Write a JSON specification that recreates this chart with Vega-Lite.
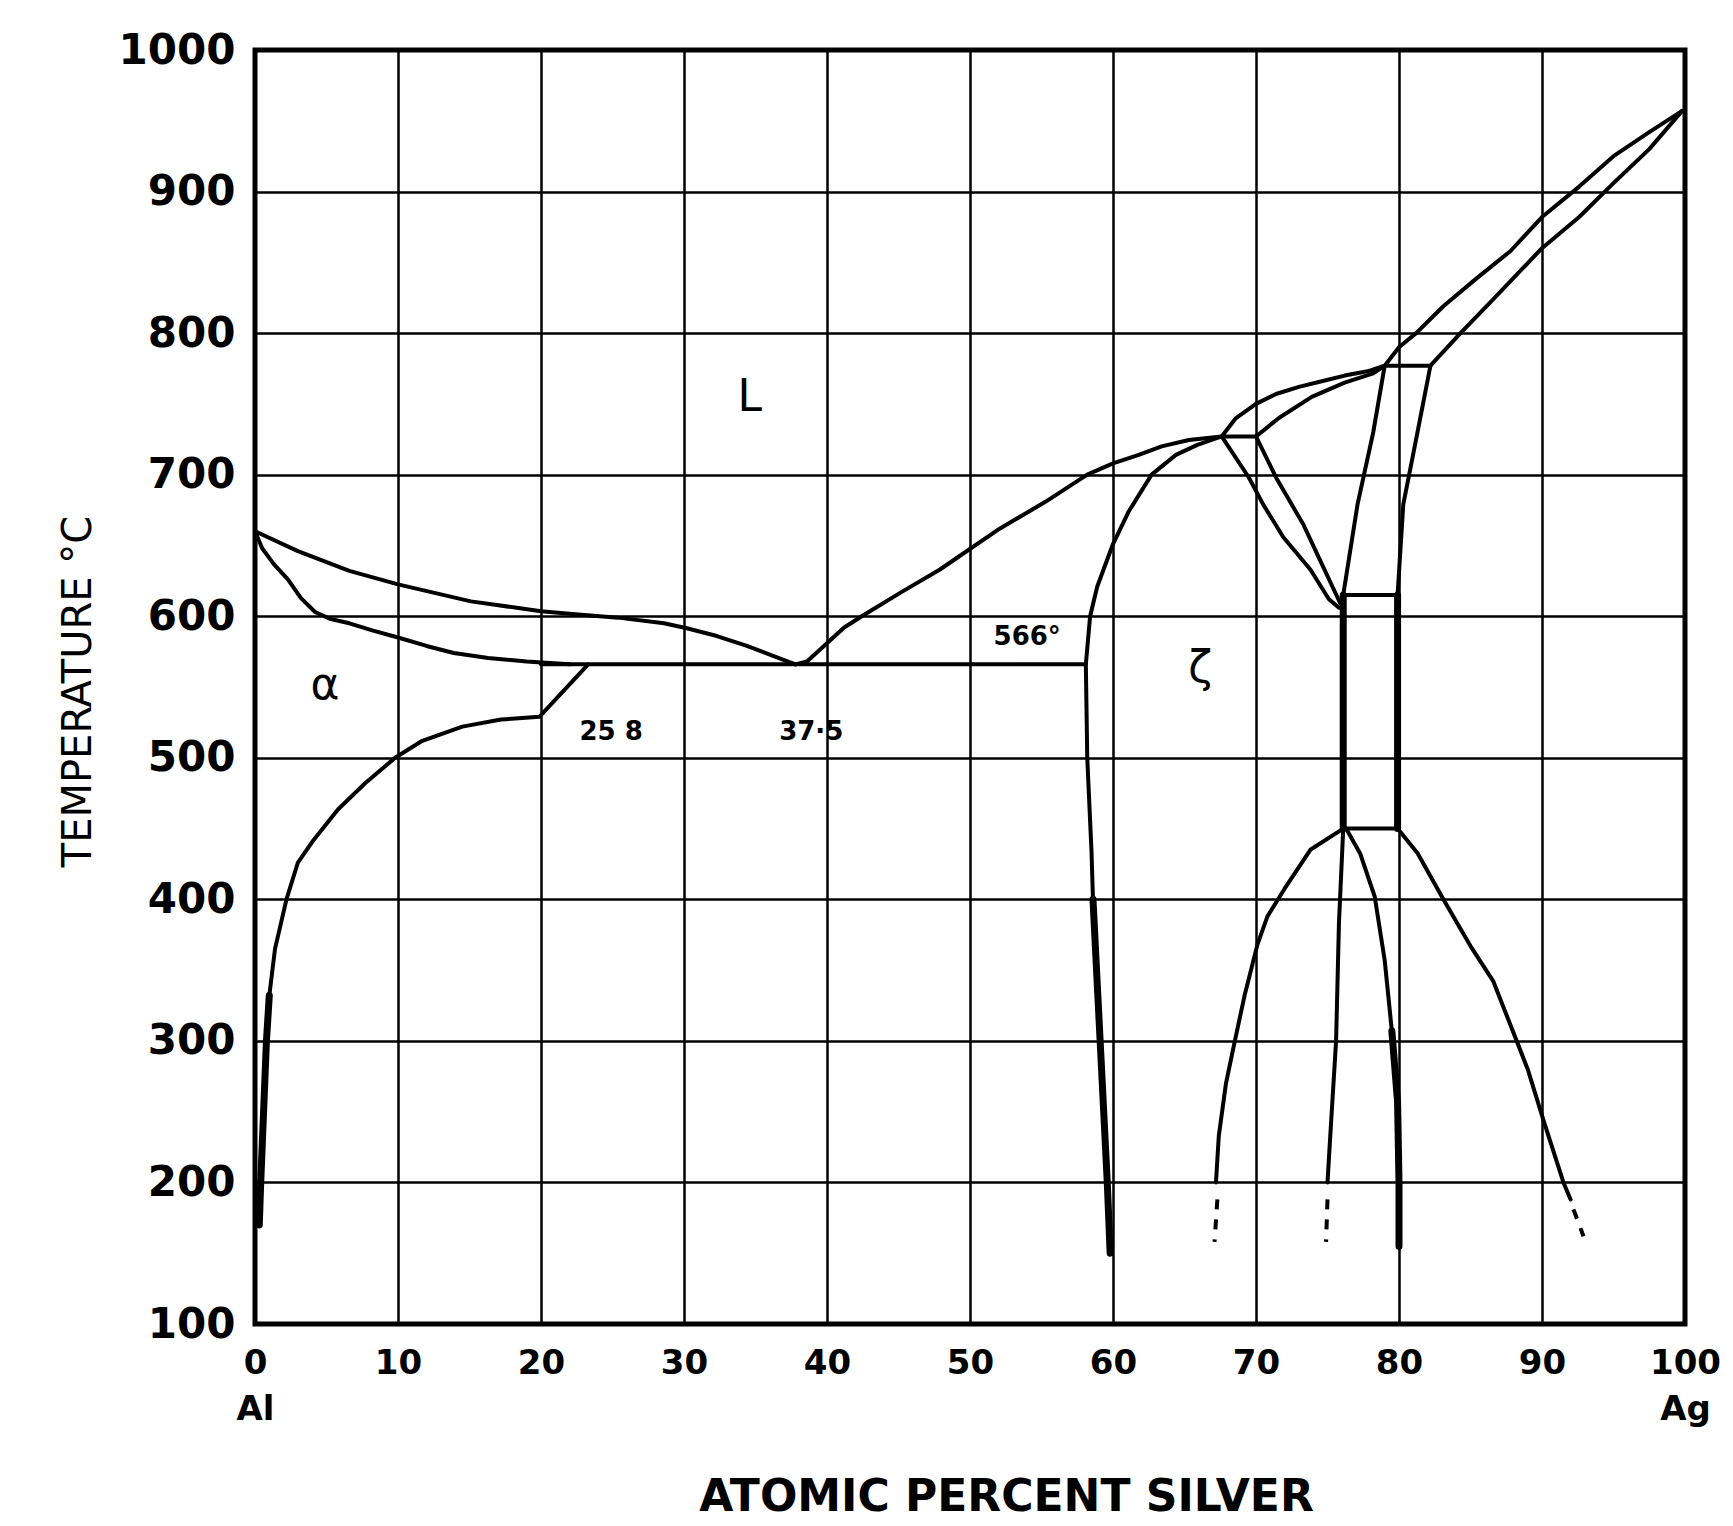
{
  "$schema": "https://vega.github.io/schema/vega-lite/v6.json",
  "autosize": {"type": "none"},
  "padding": {"left": 255, "top": 50, "right": 48, "bottom": 202},
  "width": 1430,
  "height": 1274,
  "background": "white",
  "config": {
    "font": "DejaVu Sans",
    "view": {"stroke": "black", "strokeWidth": 5},
    "axis": {
      "grid": true,
      "gridColor": "black",
      "gridOpacity": 1,
      "gridWidth": 2.5,
      "ticks": false,
      "domain": false,
      "labelColor": "black",
      "titleColor": "black",
      "labelFont": "DejaVu Sans",
      "titleFont": "DejaVu Sans"
    }
  },
  "datasets": {
    "lines": [
      {"curve": "liqAl", "i": 0, "x": 0, "T": 660},
      {"curve": "liqAl", "i": 1, "x": 3.0, "T": 646},
      {"curve": "liqAl", "i": 2, "x": 6.6, "T": 632},
      {"curve": "liqAl", "i": 3, "x": 10, "T": 622.5},
      {"curve": "liqAl", "i": 4, "x": 15.1, "T": 610.5},
      {"curve": "liqAl", "i": 5, "x": 20, "T": 603.5},
      {"curve": "liqAl", "i": 6, "x": 22.8, "T": 601},
      {"curve": "liqAl", "i": 7, "x": 25.4, "T": 599},
      {"curve": "liqAl", "i": 8, "x": 28.6, "T": 595},
      {"curve": "liqAl", "i": 9, "x": 30.2, "T": 591.5},
      {"curve": "liqAl", "i": 10, "x": 32.3, "T": 586},
      {"curve": "liqAl", "i": 11, "x": 34.4, "T": 579},
      {"curve": "liqAl", "i": 12, "x": 36.5, "T": 571},
      {"curve": "liqAl", "i": 13, "x": 37.8, "T": 566},

      {"curve": "liqMid", "i": 0, "x": 37.8, "T": 566},
      {"curve": "liqMid", "i": 1, "x": 38.6, "T": 568},
      {"curve": "liqMid", "i": 2, "x": 39.9, "T": 580},
      {"curve": "liqMid", "i": 3, "x": 41.2, "T": 592},
      {"curve": "liqMid", "i": 4, "x": 42.6, "T": 601},
      {"curve": "liqMid", "i": 5, "x": 45.2, "T": 617},
      {"curve": "liqMid", "i": 6, "x": 47.9, "T": 633},
      {"curve": "liqMid", "i": 7, "x": 49.2, "T": 642},
      {"curve": "liqMid", "i": 8, "x": 52.1, "T": 662},
      {"curve": "liqMid", "i": 9, "x": 55.3, "T": 681},
      {"curve": "liqMid", "i": 10, "x": 58.2, "T": 700},
      {"curve": "liqMid", "i": 11, "x": 60, "T": 708},
      {"curve": "liqMid", "i": 12, "x": 61.8, "T": 714},
      {"curve": "liqMid", "i": 13, "x": 63.4, "T": 720},
      {"curve": "liqMid", "i": 14, "x": 65.3, "T": 724.5},
      {"curve": "liqMid", "i": 15, "x": 67.6, "T": 727},

      {"curve": "liqHi", "i": 0, "x": 67.6, "T": 727},
      {"curve": "liqHi", "i": 1, "x": 68.6, "T": 740},
      {"curve": "liqHi", "i": 2, "x": 70, "T": 750},
      {"curve": "liqHi", "i": 3, "x": 71.4, "T": 757},
      {"curve": "liqHi", "i": 4, "x": 73, "T": 762},
      {"curve": "liqHi", "i": 5, "x": 74.6, "T": 766},
      {"curve": "liqHi", "i": 6, "x": 76.2, "T": 770},
      {"curve": "liqHi", "i": 7, "x": 77.8, "T": 773},
      {"curve": "liqHi", "i": 8, "x": 79.0, "T": 777},
      {"curve": "liqHi", "i": 9, "x": 80, "T": 790},
      {"curve": "liqHi", "i": 10, "x": 81.2, "T": 800},
      {"curve": "liqHi", "i": 11, "x": 83.1, "T": 819},
      {"curve": "liqHi", "i": 12, "x": 85.4, "T": 838.5},
      {"curve": "liqHi", "i": 13, "x": 87.8, "T": 858},
      {"curve": "liqHi", "i": 14, "x": 90, "T": 882},
      {"curve": "liqHi", "i": 15, "x": 92.6, "T": 903.5},
      {"curve": "liqHi", "i": 16, "x": 95, "T": 925},
      {"curve": "liqHi", "i": 17, "x": 97.5, "T": 942},
      {"curve": "liqHi", "i": 18, "x": 99.8, "T": 957},

      {"curve": "solBeta", "i": 0, "x": 70, "T": 727},
      {"curve": "solBeta", "i": 1, "x": 71.6, "T": 740},
      {"curve": "solBeta", "i": 2, "x": 73.9, "T": 755},
      {"curve": "solBeta", "i": 3, "x": 76.2, "T": 765},
      {"curve": "solBeta", "i": 4, "x": 78.2, "T": 771.5},
      {"curve": "solBeta", "i": 5, "x": 79.0, "T": 777},

      {"curve": "solAg", "i": 0, "x": 82.2, "T": 777},
      {"curve": "solAg", "i": 1, "x": 84.3, "T": 800},
      {"curve": "solAg", "i": 2, "x": 86.6, "T": 824},
      {"curve": "solAg", "i": 3, "x": 90, "T": 860},
      {"curve": "solAg", "i": 4, "x": 92.6, "T": 882},
      {"curve": "solAg", "i": 5, "x": 95, "T": 906},
      {"curve": "solAg", "i": 6, "x": 97.5, "T": 930},
      {"curve": "solAg", "i": 7, "x": 99.8, "T": 957},

      {"curve": "p780", "i": 0, "x": 79.0, "T": 777},
      {"curve": "p780", "i": 1, "x": 82.2, "T": 777},
      {"curve": "p727", "i": 0, "x": 67.6, "T": 727},
      {"curve": "p727", "i": 1, "x": 70, "T": 727},
      {"curve": "e566", "i": 0, "x": 20, "T": 566},
      {"curve": "e566", "i": 1, "x": 58.1, "T": 566},

      {"curve": "solAl", "i": 0, "x": 0, "T": 660},
      {"curve": "solAl", "i": 1, "x": 0.5, "T": 648},
      {"curve": "solAl", "i": 2, "x": 1.3, "T": 637},
      {"curve": "solAl", "i": 3, "x": 2.3, "T": 626},
      {"curve": "solAl", "i": 4, "x": 3.2, "T": 613},
      {"curve": "solAl", "i": 5, "x": 4.2, "T": 603},
      {"curve": "solAl", "i": 6, "x": 5.3, "T": 598},
      {"curve": "solAl", "i": 7, "x": 6.6, "T": 595},
      {"curve": "solAl", "i": 8, "x": 8.2, "T": 590},
      {"curve": "solAl", "i": 9, "x": 10, "T": 585},
      {"curve": "solAl", "i": 10, "x": 12, "T": 579},
      {"curve": "solAl", "i": 11, "x": 13.9, "T": 574},
      {"curve": "solAl", "i": 12, "x": 16.3, "T": 570.5},
      {"curve": "solAl", "i": 13, "x": 19, "T": 568},
      {"curve": "solAl", "i": 14, "x": 22, "T": 566},

      {"curve": "solvusAl", "i": 0, "x": 0.3, "T": 170},
      {"curve": "solvusAl", "i": 1, "x": 0.4, "T": 200},
      {"curve": "solvusAl", "i": 2, "x": 0.6, "T": 250},
      {"curve": "solvusAl", "i": 3, "x": 0.8, "T": 300},
      {"curve": "solvusAl", "i": 4, "x": 1.0, "T": 332},
      {"curve": "solvusAl", "i": 5, "x": 1.4, "T": 365},
      {"curve": "solvusAl", "i": 6, "x": 2.2, "T": 400},
      {"curve": "solvusAl", "i": 7, "x": 3.0, "T": 426},
      {"curve": "solvusAl", "i": 8, "x": 4.1, "T": 442},
      {"curve": "solvusAl", "i": 9, "x": 5.8, "T": 463.5},
      {"curve": "solvusAl", "i": 10, "x": 7.7, "T": 482},
      {"curve": "solvusAl", "i": 11, "x": 9.8, "T": 500},
      {"curve": "solvusAl", "i": 12, "x": 11.7, "T": 512},
      {"curve": "solvusAl", "i": 13, "x": 14.5, "T": 522},
      {"curve": "solvusAl", "i": 14, "x": 17.2, "T": 527},
      {"curve": "solvusAl", "i": 15, "x": 19.9, "T": 529},
      {"curve": "solvusAl", "i": 16, "x": 23.3, "T": 566},

      {"curve": "zetaL", "i": 0, "x": 67.6, "T": 727},
      {"curve": "zetaL", "i": 1, "x": 65.9, "T": 721},
      {"curve": "zetaL", "i": 2, "x": 64.4, "T": 714},
      {"curve": "zetaL", "i": 3, "x": 62.7, "T": 700},
      {"curve": "zetaL", "i": 4, "x": 61.1, "T": 674},
      {"curve": "zetaL", "i": 5, "x": 60, "T": 651},
      {"curve": "zetaL", "i": 6, "x": 58.9, "T": 621},
      {"curve": "zetaL", "i": 7, "x": 58.4, "T": 600},
      {"curve": "zetaL", "i": 8, "x": 58.1, "T": 566},
      {"curve": "zetaL", "i": 9, "x": 58.2, "T": 500},
      {"curve": "zetaL", "i": 10, "x": 58.5, "T": 433},
      {"curve": "zetaL", "i": 11, "x": 58.6, "T": 400},
      {"curve": "zetaL", "i": 12, "x": 59.1, "T": 300},
      {"curve": "zetaL", "i": 13, "x": 59.6, "T": 200},
      {"curve": "zetaL", "i": 14, "x": 59.8, "T": 150},

      {"curve": "zetaR1", "i": 0, "x": 67.6, "T": 727},
      {"curve": "zetaR1", "i": 1, "x": 69.5, "T": 698},
      {"curve": "zetaR1", "i": 2, "x": 70.5, "T": 679},
      {"curve": "zetaR1", "i": 3, "x": 71.9, "T": 656},
      {"curve": "zetaR1", "i": 4, "x": 73.8, "T": 633},
      {"curve": "zetaR1", "i": 5, "x": 75.1, "T": 612},
      {"curve": "zetaR1", "i": 6, "x": 75.8, "T": 606},

      {"curve": "zetaR2", "i": 0, "x": 70, "T": 727},
      {"curve": "zetaR2", "i": 1, "x": 71.4, "T": 698},
      {"curve": "zetaR2", "i": 2, "x": 73.3, "T": 665},
      {"curve": "zetaR2", "i": 3, "x": 74.6, "T": 637},
      {"curve": "zetaR2", "i": 4, "x": 75.9, "T": 609},

      {"curve": "betaL", "i": 0, "x": 79.0, "T": 777},
      {"curve": "betaL", "i": 1, "x": 78.2, "T": 730},
      {"curve": "betaL", "i": 2, "x": 77.1, "T": 679},
      {"curve": "betaL", "i": 3, "x": 76.1, "T": 615},

      {"curve": "betaR", "i": 0, "x": 82.2, "T": 777},
      {"curve": "betaR", "i": 1, "x": 81.1, "T": 720},
      {"curve": "betaR", "i": 2, "x": 80.3, "T": 679},
      {"curve": "betaR", "i": 3, "x": 79.9, "T": 615},

      {"curve": "h615", "i": 0, "x": 76.1, "T": 615},
      {"curve": "h615", "i": 1, "x": 79.9, "T": 615},
      {"curve": "h450", "i": 0, "x": 76.1, "T": 450},
      {"curve": "h450", "i": 1, "x": 79.9, "T": 450},

      {"curve": "domeL", "i": 0, "x": 76.1, "T": 450},
      {"curve": "domeL", "i": 1, "x": 73.8, "T": 435},
      {"curve": "domeL", "i": 2, "x": 72, "T": 407.5},
      {"curve": "domeL", "i": 3, "x": 70.8, "T": 388},
      {"curve": "domeL", "i": 4, "x": 70.1, "T": 368},
      {"curve": "domeL", "i": 5, "x": 69.2, "T": 332},
      {"curve": "domeL", "i": 6, "x": 68.5, "T": 299},
      {"curve": "domeL", "i": 7, "x": 67.9, "T": 270},
      {"curve": "domeL", "i": 8, "x": 67.4, "T": 233},
      {"curve": "domeL", "i": 9, "x": 67.2, "T": 200},

      {"curve": "domeIL", "i": 0, "x": 76.1, "T": 450},
      {"curve": "domeIL", "i": 1, "x": 75.8, "T": 383},
      {"curve": "domeIL", "i": 2, "x": 75.6, "T": 300},
      {"curve": "domeIL", "i": 3, "x": 75.2, "T": 234},
      {"curve": "domeIL", "i": 4, "x": 75.0, "T": 200},

      {"curve": "domeIR", "i": 0, "x": 76.3, "T": 450},
      {"curve": "domeIR", "i": 1, "x": 77.3, "T": 432},
      {"curve": "domeIR", "i": 2, "x": 78.3, "T": 402},
      {"curve": "domeIR", "i": 3, "x": 79.0, "T": 357},
      {"curve": "domeIR", "i": 4, "x": 79.5, "T": 307},
      {"curve": "domeIR", "i": 5, "x": 79.9, "T": 257},
      {"curve": "domeIR", "i": 6, "x": 80, "T": 200},
      {"curve": "domeIR", "i": 7, "x": 80, "T": 155},

      {"curve": "domeR", "i": 0, "x": 79.9, "T": 450},
      {"curve": "domeR", "i": 1, "x": 81.3, "T": 432.5},
      {"curve": "domeR", "i": 2, "x": 83.1, "T": 400},
      {"curve": "domeR", "i": 3, "x": 85, "T": 367},
      {"curve": "domeR", "i": 4, "x": 86.6, "T": 342},
      {"curve": "domeR", "i": 5, "x": 87.8, "T": 311},
      {"curve": "domeR", "i": 6, "x": 89, "T": 280},
      {"curve": "domeR", "i": 7, "x": 90.1, "T": 244},
      {"curve": "domeR", "i": 8, "x": 91.5, "T": 200},
      {"curve": "domeR", "i": 9, "x": 92, "T": 188}
    ],
    "thick": [
      {"curve": "v76", "i": 0, "x": 76.1, "T": 615},
      {"curve": "v76", "i": 1, "x": 76.1, "T": 450},
      {"curve": "v80", "i": 0, "x": 79.9, "T": 615},
      {"curve": "v80", "i": 1, "x": 79.9, "T": 450},
      {"curve": "solvusLow", "i": 0, "x": 0.3, "T": 170},
      {"curve": "solvusLow", "i": 1, "x": 0.4, "T": 200},
      {"curve": "solvusLow", "i": 2, "x": 0.6, "T": 250},
      {"curve": "solvusLow", "i": 3, "x": 0.8, "T": 300},
      {"curve": "solvusLow", "i": 4, "x": 1.0, "T": 332},
      {"curve": "zetaLow", "i": 0, "x": 58.6, "T": 400},
      {"curve": "zetaLow", "i": 1, "x": 59.1, "T": 300},
      {"curve": "zetaLow", "i": 2, "x": 59.6, "T": 200},
      {"curve": "zetaLow", "i": 3, "x": 59.8, "T": 150},
      {"curve": "domeIRlow", "i": 0, "x": 79.5, "T": 307},
      {"curve": "domeIRlow", "i": 1, "x": 79.9, "T": 257},
      {"curve": "domeIRlow", "i": 2, "x": 80, "T": 200},
      {"curve": "domeIRlow", "i": 3, "x": 80, "T": 155}
    ],
    "dashed": [
      {"curve": "d1", "i": 0, "x": 67.3, "T": 188},
      {"curve": "d1", "i": 1, "x": 67.1, "T": 158},
      {"curve": "d2", "i": 0, "x": 75.0, "T": 188},
      {"curve": "d2", "i": 1, "x": 74.9, "T": 158},
      {"curve": "d3", "i": 0, "x": 92.2, "T": 181},
      {"curve": "d3", "i": 1, "x": 92.9, "T": 162}
    ],
    "phases": [
      {"t": "L", "x": 34.6, "T": 754},
      {"t": "α", "x": 4.9, "T": 551},
      {"t": "ζ", "x": 66.1, "T": 563}
    ],
    "notes": [
      {"t": "25 8", "x": 24.9, "T": 518},
      {"t": "37·5", "x": 38.9, "T": 518},
      {"t": "566°", "x": 54.0, "T": 585}
    ]
  },
  "encoding": {
    "x": {
      "field": "x",
      "type": "quantitative",
      "scale": {"domain": [0, 100], "nice": false, "zero": false},
      "axis": {
        "values": [0, 10, 20, 30, 40, 50, 60, 70, 80, 90, 100],
        "labelExpr": "datum.value == 0 ? ['0', 'Al'] : datum.value == 100 ? ['100', 'Ag'] : datum.label",
        "labelFontSize": 34,
        "labelFontWeight": "bold",
        "labelPadding": 22,
        "labelDx": 8,
        "labelLineHeight": 46,
        "labelFlush": false,
        "labelOverlap": false,
        "title": "ATOMIC PERCENT SILVER",
        "titleFontSize": 44,
        "titleFontWeight": "bold",
        "titleX": 751,
        "titleY": 186,
        "titleBaseline": "alphabetic",
        "titleAlign": "center"
      }
    },
    "y": {
      "field": "T",
      "type": "quantitative",
      "scale": {"domain": [100, 1000], "nice": false, "zero": false},
      "axis": {
        "values": [100, 200, 300, 400, 500, 600, 700, 800, 900, 1000],
        "format": "d",
        "labelFontSize": 42,
        "labelFontWeight": "bold",
        "labelPadding": 20,
        "labelFlush": false,
        "labelOverlap": false,
        "title": "TEMPERATURE °C",
        "titleFontSize": 40,
        "titleFontWeight": "normal",
        "titleAngle": -90,
        "titleX": -165,
        "titleY": 641,
        "titleBaseline": "alphabetic",
        "titleAlign": "center"
      }
    }
  },
  "layer": [
    {
      "data": {"name": "lines"},
      "mark": {"type": "line", "color": "black", "strokeWidth": 4, "strokeJoin": "round", "strokeCap": "round"},
      "encoding": {
        "detail": {"field": "curve", "type": "nominal"},
        "order": {"field": "i", "type": "quantitative"}
      }
    },
    {
      "data": {"name": "thick"},
      "mark": {"type": "line", "color": "black", "strokeWidth": 7, "strokeJoin": "round", "strokeCap": "round"},
      "encoding": {
        "detail": {"field": "curve", "type": "nominal"},
        "order": {"field": "i", "type": "quantitative"}
      }
    },
    {
      "data": {"name": "dashed"},
      "mark": {"type": "line", "color": "black", "strokeWidth": 4, "strokeDash": [10, 10]},
      "encoding": {
        "detail": {"field": "curve", "type": "nominal"},
        "order": {"field": "i", "type": "quantitative"}
      }
    },
    {
      "data": {"name": "phases"},
      "mark": {"type": "text", "color": "black", "fontSize": 44, "font": "DejaVu Sans", "align": "center", "baseline": "middle"},
      "encoding": {"text": {"field": "t", "type": "nominal"}}
    },
    {
      "data": {"name": "notes"},
      "mark": {"type": "text", "color": "black", "fontSize": 26, "fontWeight": "bold", "font": "DejaVu Sans", "align": "center", "baseline": "middle"},
      "encoding": {"text": {"field": "t", "type": "nominal"}}
    }
  ]
}
